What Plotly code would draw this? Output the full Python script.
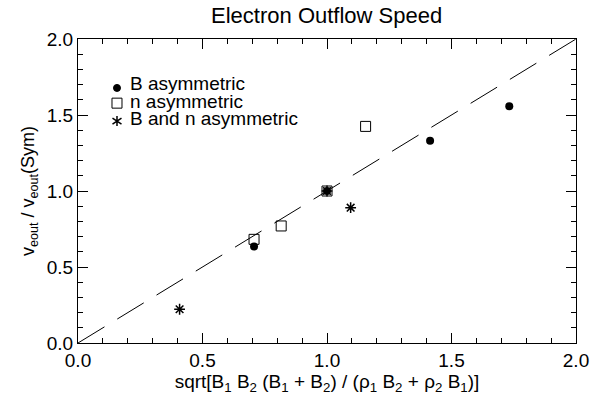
import plotly.graph_objects as go

# Data
b_asym_x = [0.707, 1.0, 1.414, 1.732]
b_asym_y = [0.635, 1.0, 1.33, 1.557]
n_asym_x = [0.707, 0.816, 1.0, 1.155]
n_asym_y = [0.682, 0.77, 1.0, 1.425]
bn_asym_x = [0.408, 1.0, 1.095]
bn_asym_y = [0.222, 1.0, 0.89]
line_x = [0.0, 2.0]
line_y = [0.0, 2.0]
legend_labels = ["B asymmetric", "n asymmetric", "B and n asymmetric"]

FONT = "Liberation Sans, Arial, Helvetica, sans-serif"

fig = go.Figure()
fig.add_trace(go.Scatter(x=line_x, y=line_y, mode="lines", showlegend=False,
                         line=dict(color="black", width=1, dash="31px,15px"),
                         hoverinfo="skip"))
fig.add_trace(go.Scatter(x=b_asym_x, y=b_asym_y, mode="markers", name=legend_labels[0],
                         showlegend=False,
                         marker=dict(symbol="circle", size=8, color="black")))
fig.add_trace(go.Scatter(x=n_asym_x, y=n_asym_y, mode="markers", name=legend_labels[1],
                         showlegend=False,
                         marker=dict(symbol="square-open", size=10, color="black",
                                     line=dict(width=1, color="black"))))
fig.add_trace(go.Scatter(x=bn_asym_x, y=bn_asym_y, mode="markers", name=legend_labels[2],
                         showlegend=False,
                         marker=dict(symbol="asterisk-open", size=9, color="black",
                                     line=dict(width=1.5, color="black"))))

axis_common = dict(
    range=[0, 2], dtick=0.5, tick0=0, ticks="inside", ticklen=10, tickwidth=1,
    tickcolor="black", showline=True, linecolor="black", linewidth=1, mirror="ticks",
    showgrid=False, zeroline=False, tickformat=".1f", automargin=False,
    tickfont=dict(family=FONT, size=19, color="black"),
    minor=dict(dtick=0.1, ticks="inside", ticklen=5, tickcolor="black", showgrid=False),
)

# Legend (drawn manually, compact like the original)
sym_x = 0.0783
row_y = [0.852, 0.796, 0.740]
sym_y = [0.839, 0.789, 0.730]
shapes = [
    dict(type="circle", xref="paper", yref="paper", xsizemode="pixel", ysizemode="pixel",
         xanchor=sym_x, yanchor=sym_y[0], x0=-3.5, x1=3.5, y0=-3.5, y1=3.5,
         fillcolor="black", line=dict(color="black", width=1)),
    dict(type="rect", xref="paper", yref="paper", xsizemode="pixel", ysizemode="pixel",
         xanchor=sym_x, yanchor=sym_y[1], x0=-5, x1=5, y0=-5, y1=5,
         fillcolor="rgba(0,0,0,0)", line=dict(color="black", width=1)),
    dict(type="path", xref="paper", yref="paper", xsizemode="pixel", ysizemode="pixel",
         xanchor=sym_x, yanchor=sym_y[2],
         path="M0,-5 L0,5 M-4.5,-3 L4.5,3 M-4.5,3 L4.5,-3",
         line=dict(color="black", width=1.5)),
]
annotations = [
    dict(text=lab, xref="paper", yref="paper", x=0.1004, y=yy, xanchor="left",
         yanchor="middle", showarrow=False,
         font=dict(family=FONT, size=19, color="black"))
    for lab, yy in zip(legend_labels, row_y)
]

fig.update_layout(
    width=614, height=395,
    margin=dict(l=78, r=38, t=39, b=52),
    paper_bgcolor="white", plot_bgcolor="white",
    font=dict(family=FONT, color="black"),
    title=dict(text="Electron Outflow Speed", x=0.532, xanchor="center", y=0.962,
               yanchor="middle", font=dict(family=FONT, size=22, color="black")),
    xaxis=dict(axis_common,
               title=dict(text="sqrt[B<sub>1</sub> B<sub>2</sub> (B<sub>1</sub> + B<sub>2</sub>) / (ρ<sub>1</sub> B<sub>2</sub> + ρ<sub>2</sub> B<sub>1</sub>)]",
                          font=dict(family=FONT, size=19, color="black"), standoff=3)),
    yaxis=dict(axis_common,
               title=dict(text="v<sub>eout</sub> / v<sub>eout</sub>(Sym)",
                          font=dict(family=FONT, size=18, color="black"), standoff=7)),
    shapes=shapes,
    annotations=annotations,
    showlegend=False,
)

fig.write_html("out.html", config={"displayModeBar": False},
               post_script="document.body.style.margin='0';")
